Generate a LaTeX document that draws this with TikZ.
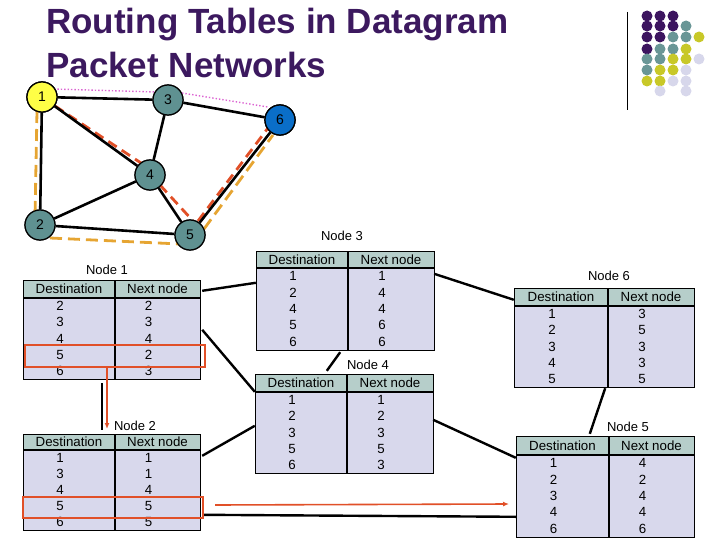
\documentclass[tikz,border=0pt]{standalone}
\usepackage{fontspec}
\setmainfont{Liberation Sans}
\usetikzlibrary{arrows.meta}
\begin{document}
\begin{tikzpicture}[x=1pt,y=-1pt,
  edge/.style={line width=2.6pt,black},
  gnode/.style={circle,draw=black,line width=1.2pt,minimum size=30pt,inner sep=0pt,fill=teal1,font=\fontsize{14}{14}\selectfont},
  odash/.style={line width=2.8pt,orange1,dash pattern=on 12pt off 6pt},
  rdash/.style={line width=2.8pt,red1,dash pattern=on 10pt off 6pt},
  pdot/.style={line width=1.4pt,pink1,dotted},
  conn/.style={line width=2.4pt,black},
  lbl/.style={font=\fontsize{13}{13}\selectfont},
  cell/.style={font=\fontsize{13.3}{13.3}\selectfont},
  redbox/.style={draw=red1,line width=2pt,inner sep=0pt},
  dot/.style={circle,inner sep=0pt,minimum size=11pt}]
\definecolor{teal1}{RGB}{95,145,145}
\definecolor{blue1}{RGB}{10,110,200}
\definecolor{yel1}{RGB}{255,255,70}
\definecolor{orange1}{RGB}{230,165,50}
\definecolor{red1}{RGB}{225,80,40}
\definecolor{pink1}{RGB}{220,100,210}
\definecolor{hdr}{RGB}{182,206,202}
\definecolor{body}{RGB}{216,216,236}
\definecolor{ttl}{RGB}{60,25,95}
\definecolor{dP}{RGB}{60,20,95}
\definecolor{dT}{RGB}{105,150,150}
\definecolor{dY}{RGB}{200,200,40}
\definecolor{dL}{RGB}{215,215,235}
\useasboundingbox (0,0) rectangle (720,540);
% title
\node[anchor=west,text=ttl,font=\fontsize{35}{35}\bfseries,inner sep=0pt] (t1l) at (46,25) {Routing Tables in Datagram};
\node[anchor=west,text=ttl,font=\fontsize{35}{35}\bfseries,inner sep=0pt] (t2l) at (46,65) {Packet Networks};
% decoration
\draw[line width=1pt] (627,12) -- (627,110);
\foreach \r/\cols in {16/{1/P,2/P,3/P},26/{1/P,2/P,3/P,4/T},37/{1/P,2/P,3/T,4/T,5/Y},49/{1/P,2/T,3/T,4/Y},59/{1/T,2/T,3/Y,4/Y,5/L},70/{1/T,2/Y,3/Y,4/L},81/{1/Y,2/Y,3/L,4/L},91/{2/L,4/L}}{
  \foreach \c/\k in \cols { \node[dot,fill=d\k] at ({634+13*\c},\r) {}; }
}
% graph
\node[gnode,fill=yel1] (n1) at (42,97) {1};
\node[gnode] (n3) at (168,100) {3};
\node[gnode,fill=blue1] (n6) at (280,120) {6};
\node[gnode] (n4) at (150,175) {4};
\node[gnode] (n2) at (40,225) {2};
\node[gnode] (n5) at (190,235) {5};
\draw[pdot] ([shift={(12,-8)}]n1.center) -- ([shift={(-12,-8)}]n3.center);
\draw[pdot] ([shift={(14,-7)}]n3.center) -- ([shift={(-12,-13)}]n6.center);
\draw[odash] ([shift={(-5,14)}]n1.center) -- ([shift={(-5,-8)}]n2.center);
\draw[odash] ([shift={(10,13)}]n2.center) -- ([shift={(-10,9)}]n5.center);
\draw[odash] ([shift={(14,-6)}]n5.center) -- ([shift={(-7,15)}]n6.center);
\draw[rdash] ([shift={(13,9)}]n1.center) -- ([shift={(-9,-12)}]n4.center);
\draw[rdash] ([shift={(10,10)}]n4.center) -- ([shift={(4,-13)}]n5.center);
\draw[rdash] ([shift={(8,-14)}]n5.center) -- ([shift={(-12,8)}]n6.center);
\foreach \a/\b in {n1/n3,n1/n4,n1/n2,n3/n4,n3/n6,n4/n2,n4/n5,n2/n5,n5/n6}
  \draw[edge] (\a) -- (\b);
\foreach \n in {1,...,6} \node[gnode] at (n\n) {\n};
\node[gnode,fill=yel1] at (n1) {1};
\node[gnode,fill=blue1] at (n6) {6};
% tables
\newcommand\rtable[9]{%
  \fill[hdr] (#2,#5) rectangle (#4,#6);
  \fill[body] (#2,#6) rectangle (#4,#7);
  \draw[line width=1pt] (#2,#5) rectangle (#4,#7);
  \draw[line width=1.2pt] (#2,#6) -- (#4,#6);
  \draw[line width=2pt] (#3,#5) -- (#3,#7);
  \node[cell] at ({(#2+#3)/2},{(#5+#6)/2}) {Destination};
  \node[cell] at ({(#3+#4)/2},{(#5+#6)/2}) {Next node};
  \foreach \d [count=\i] in {#8} \node[cell] at ({(#2+#3)/2-9},{#6+(\i-0.5)*(#7-#6)/5}) {\d};
  \foreach \d [count=\i] in {#9} \node[cell] at ({(#3+#4)/2-9},{#6+(\i-0.5)*(#7-#6)/5}) {\d};
  \node[inner sep=0pt,minimum width={(#4-#2)*1pt},minimum height={(#7-#5)*1pt}] (#1) at ({(#2+#4)/2},{(#5+#7)/2}) {};
}
\rtable{t1}{23}{115}{200}{280}{298}{379}{2,3,4,5,6}{2,3,4,2,3}
\rtable{t2}{23}{115}{200}{434}{450}{530}{1,3,4,5,6}{1,1,4,5,5}
\rtable{t3}{256}{348}{434}{251}{268}{350}{1,2,4,5,6}{1,4,4,6,6}
\rtable{t4}{255}{347}{433}{374}{392}{473}{1,2,3,5,6}{1,2,3,5,3}
\rtable{t6}{514}{608}{694}{288}{306}{387}{1,2,3,4,5}{3,5,3,3,5}
\rtable{t5}{516}{609}{694}{436}{455}{537}{1,2,3,4,6}{4,2,4,4,6}
\node[lbl] (l1) at (107,270) {Node 1};
\node[lbl] (l2) at (135,426) {Node 2};
\node[lbl] (l3) at (342,236) {Node 3};
\node[lbl] (l4) at (368,365) {Node 4};
\node[lbl] (l6) at (609,276) {Node 6};
\node[lbl] (l5) at (628,427) {Node 5};
% connectors
\draw[conn] ([shift={(2,11)}]t1.north east) -- ([shift={(0,32)}]t3.north west);
\draw[conn] ([shift={(2,50)}]t1.north east) -- ([shift={(0,18)}]t4.north west);
\draw[conn] ([shift={(79,4)}]t1.south west) -- ([shift={(79,-4)}]t2.north west);
\draw[conn] ([shift={(2,22)}]t2.north east) -- ([shift={(0,52)}]t4.north west);
\draw[conn] ([shift={(2,81)}]t2.north east) -- ([shift={(0,81)}]t5.north west);
\draw[conn] ([shift={(-94,2)}]t3.south east) -- ([shift={(72,-3)}]t4.north west);
\draw[conn] ([shift={(0,23)}]t3.north east) -- ([shift={(0,12)}]t6.north west);
\draw[conn] ([shift={(0,46)}]t4.north east) -- ([shift={(0,22)}]t5.north west);
\draw[conn] ([shift={(-89,1)}]t6.south east) -- ([shift={(74,-2)}]t5.north west);
% red highlights
\node[redbox,minimum width=180pt,minimum height=22pt] (r1) at (115,356) {};
\node[redbox,minimum width=180pt,minimum height=21pt] (r2) at (113,507.5) {};
\coordinate (a1) at (107,429);
\draw[red1,line width=1.6pt,-{Latex[length=6pt,width=5pt]}] ([xshift=-8]r1.south) -- (a1);
\coordinate (b1) at (215,505);
\coordinate (b2) at (509,504);
\draw[red1,line width=1.6pt,-{Latex[length=6pt,width=5pt]}] (b1) -- (b2);
\end{tikzpicture}
\end{document}
